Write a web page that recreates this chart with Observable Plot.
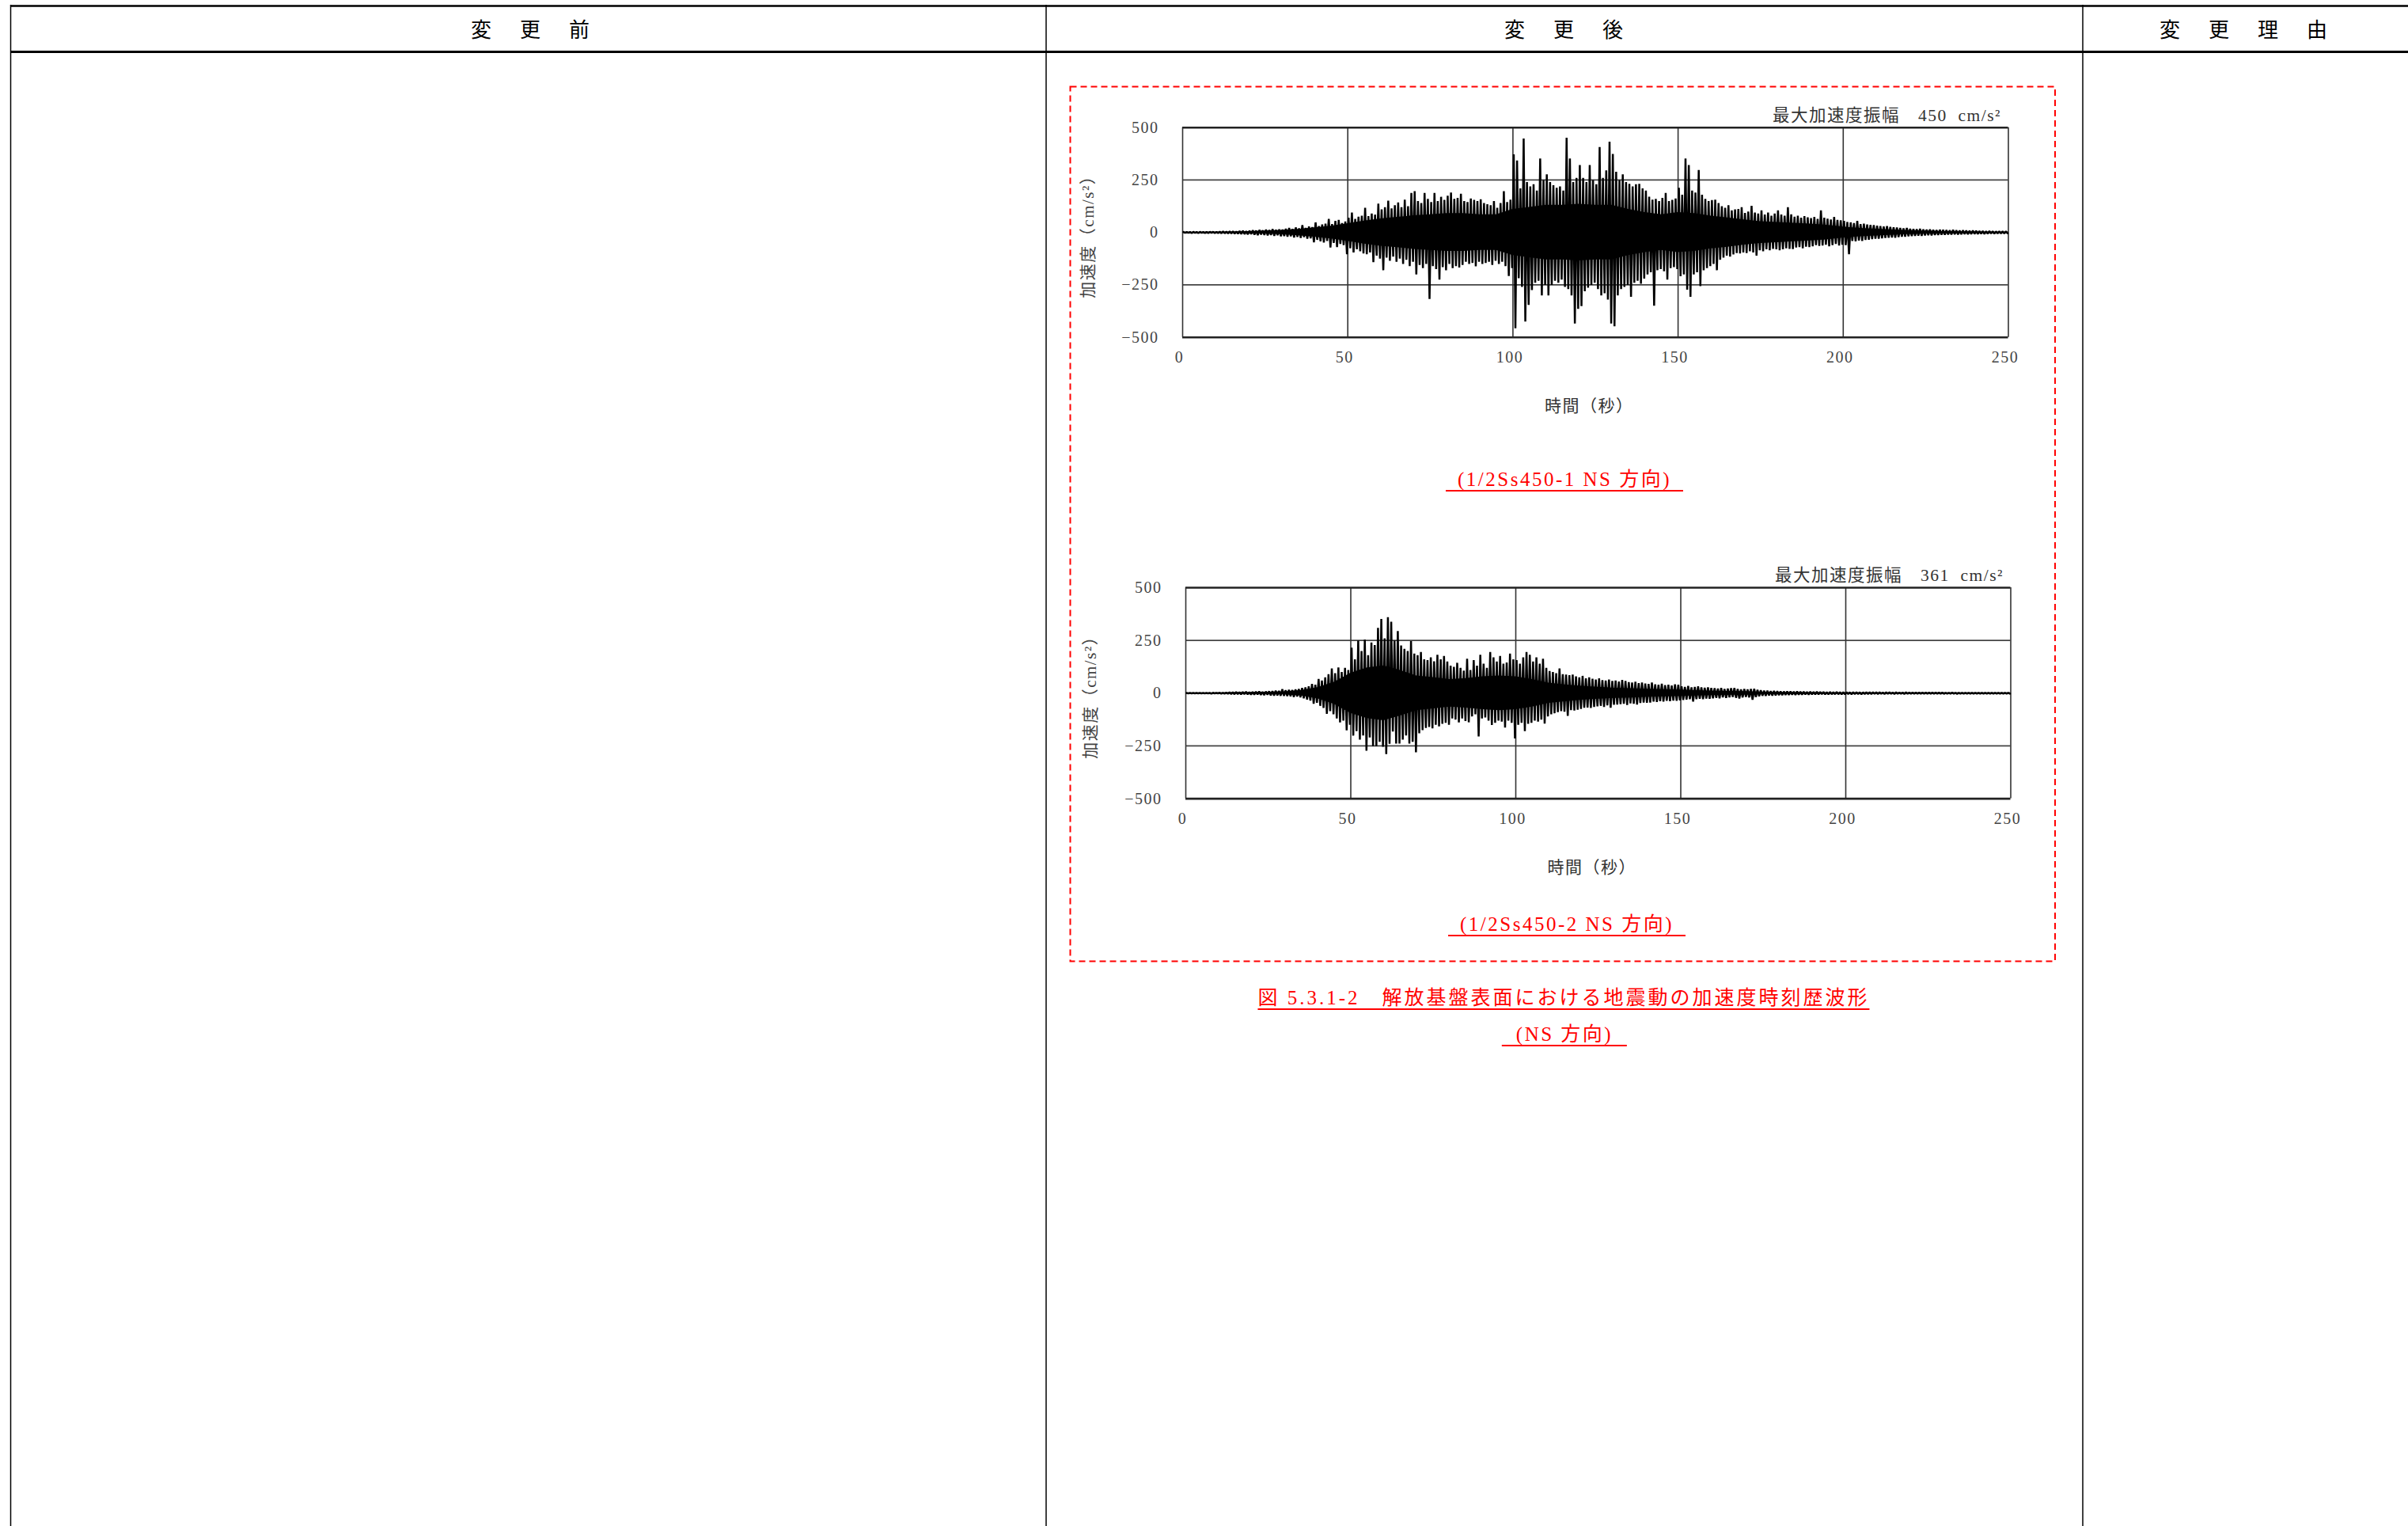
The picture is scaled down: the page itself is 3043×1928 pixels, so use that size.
<!DOCTYPE html>
<html><head><meta charset="utf-8">
<script src="https://cdn.jsdelivr.net/npm/d3@7"></script>
<script src="https://cdn.jsdelivr.net/npm/@observablehq/plot@0.6"></script>
<style>
html,body{margin:0;padding:0;background:#fff;}
body{position:relative;width:3043px;height:1928px;overflow:hidden;font-family:"Liberation Serif","Noto Sans CJK JP",serif;}
.abs{position:absolute;}
.hdr{position:absolute;top:20px;height:32px;line-height:32px;font-size:26px;letter-spacing:5px;padding-left:5px;color:#000;transform:translateX(-50%);white-space:nowrap;font-family:"Noto Sans CJK JP",sans-serif;}
.cap{position:absolute;transform:translateX(-50%);white-space:nowrap;color:#f00;font-size:25px;line-height:26px;letter-spacing:2.5px;border-bottom:2px solid #f00;}
</style></head><body>
<svg width="3043" height="1928" style="position:absolute;left:0;top:0">
<line x1="13" y1="7.5" x2="3043" y2="7.5" stroke="#000" stroke-width="2.5"/>
<line x1="13" y1="65.5" x2="3043" y2="65.5" stroke="#000" stroke-width="3"/>
<line x1="13.5" y1="6" x2="13.5" y2="1928" stroke="#000" stroke-width="1.5"/>
<line x1="1322" y1="6" x2="1322" y2="1928" stroke="#000" stroke-width="1.5"/>
<line x1="2632" y1="6" x2="2632" y2="1928" stroke="#000" stroke-width="1.5"/>
<rect x="1352.5" y="109.5" width="1244.5" height="1105" fill="none" stroke="#f00" stroke-width="2" stroke-dasharray="8 5"/>
</svg>
<div class="hdr" style="left:670px">変　更　前</div>
<div class="hdr" style="left:1976px">変　更　後</div>
<div class="hdr" style="left:2835px">変　更　理　由</div>
<div id="c1" class="abs" style="left:1360px;top:110px"></div>
<div id="c2" class="abs" style="left:1360px;top:690px"></div>
<div class="cap" id="cap1" style="left:1977px;top:593px;padding:0 15px"></div>
<div class="cap" id="cap2" style="left:1980px;top:1155px;padding:0 15px"></div>
<div class="cap" id="fig1" style="left:1976px;top:1248px;letter-spacing:3px"></div>
<div class="cap" id="fig2" style="left:1977px;top:1294px;padding:0 18px"></div>
<script>
const xTicks = [0, 50, 100, 150, 200, 250];
const yTicks = [-500, -250, 0, 250, 500];
const yLabel = "加速度（cm/s²）";
const xLabel = "時間（秒）";
const peak1 = "最大加速度振幅　450\u00a0\u00a0cm/s²";
const peak2 = "最大加速度振幅　361\u00a0\u00a0cm/s²";
const caption1 = "(1/2Ss450-1 NS 方向)";
const caption2 = "(1/2Ss450-2 NS 方向)";
const figTitle1 = "図 5.3.1-2　解放基盤表面における地震動の加速度時刻歴波形";
const figTitle2 = "(NS 方向)";

// 1/2Ss450-1 NS: per-second positive / negative peak acceleration (cm/s²), t = 0..249 s
const ns1Hi = [
 2,2,2,3,2,3,2,3,3,3, 3,4,5,4,5,6,5,7,8,6, 8,10,9,12,10,14,12,16,13,15, 14,18,22,17,24,20,35,22,28,26,
 48,30,38,42,65,40,55,60,45,52, 70,95,65,75,80,118,78,90,85,137, 110,120,152,115,130,143,120,156,125,188,
 197,150,140,188,160,145,188,150,170,155, 175,190,160,165,185,150,145,162,155,150, 158,140,135,130,150,118,140,197,145,156,
 372,343,210,448,240,220,230,200,353,250, 277,240,225,213,220,200,452,353,240,260, 321,260,240,321,250,230,407,260,296,433,
 374,289,250,277,240,232,220,230,232,210, 200,170,156,160,150,165,188,150,155,162, 213,180,353,321,200,190,298,180,160,150,
 154,156,140,125,118,130,105,110,112,120, 93,100,127,95,90,105,85,95,80,90, 105,85,80,120,86,75,80,70,78,72,
 68,74,65,105,70,66,62,74,60,58, 55,50,48,45,55,40,42,38,36,35, 32,30,28,30,26,25,24,22,20,22,
 18,17,16,18,15,14,15,13,12,13, 12,11,10,12,10,9,10,9,8,9, 8,7,7,6,7,6,5,6,5,5];
const ns1Lo = [
 -2,-2,-3,-2,-3,-2,-3,-3,-2,-3, -3,-4,-4,-5,-5,-6,-6,-7,-8,-9, -8,-11,-13,-10,-12,-14,-12,-16,-13,-18, -17,-20,-18,-24,-21,-26,-22,-30,-28,-47,
 -35,-42,-48,-40,-72,-50,-70,-55,-60,-104, -75,-95,-80,-90,-100,-104,-95,-142,-110,-125, -180,-120,-135,-115,-140,-125,-150,-130,-160,-140,
 -200,-155,-170,-150,-317,-160,-175,-225,-165,-180, -150,-170,-160,-167,-155,-140,-150,-145,-161,-140, -150,-145,-140,-155,-135,-150,-140,-160,-208,-170,
 -457,-218,-260,-425,-345,-275,-240,-230,-300,-250, -300,-250,-230,-240,-225,-260,-270,-300,-434,-364, -351,-280,-263,-250,-240,-270,-300,-290,-320,-434,
 -447,-300,-270,-260,-250,-307,-240,-230,-244,-220, -200,-190,-349,-180,-175,-185,-225,-170,-165,-175, -209,-200,-273,-307,-200,-190,-256,-180,-170,-160,
 -150,-180,-130,-120,-110,-115,-105,-98,-100,-95, -98,-90,-95,-110,-85,-90,-80,-85,-78,-80, -85,-80,-75,-78,-79,-72,-70,-75,-68,-70,
 -66,-60,-64,-62,-58,-66,-60,-55,-62,-58, -60,-104,-40,-42,-38,-40,-36,-35,-32,-30, -30,-28,-26,-25,-24,-25,-22,-20,-20,-18,
 -17,-16,-15,-16,-14,-13,-14,-12,-12,-11, -11,-10,-10,-9,-10,-9,-8,-9,-8,-7, -7,-6,-7,-6,-5,-6,-5,-5,-5,-4];
// half-width of the solid black band, every 5 s (t = 0..250)
const coreSeconds = [0,5,10,15,20,25,30,35,40,45,50,55,60,65,70,75,80,85,90,95,100,105,110,115,120,125,130,135,140,145,150,155,160,165,170,175,180,185,190,195,200,205,210,215,220,225,230,235,240,245,250];
const ns1Core = [1,1,2,3,5,7,10,15,22,30,42,55,65,72,80,85,90,90,85,85,110,120,130,130,135,130,130,110,95,85,95,90,78,70,60,52,48,44,40,35,26,20,16,12,9,7,5,4,3,2,2];

// 1/2Ss450-2 NS
const ns2Hi = [
 1,1,1,1,1,1,1,1,2,1, 2,2,3,4,5,6,5,6,7,5, 6,7,8,6,8,9,10,12,11,19, 14,16,15,18,20,25,28,32,44,40,
 67,60,75,90,117,95,122,100,120,110, 216,160,250,200,254,180,240,228,310,352, 260,360,339,250,295,226,210,200,247,188,
 180,195,160,157,170,151,182,160,176,150, 130,125,144,120,107,163,110,157,130,182, 140,120,195,170,150,176,140,145,188,160,
 157,140,170,195,182,150,170,140,163,120, 105,100,95,117,90,88,85,88,80,75, 82,70,75,68,65,70,62,60,65,58,
 60,55,63,58,52,50,54,48,50,46, 44,50,42,40,45,38,40,36,42,40, 32,30,34,28,30,32,28,26,28,25,
 24,22,25,20,22,24,25,20,18,20, 18,20,21,16,14,12,12,10,11,10, 9,8,9,8,7,8,7,7,6,7,
 6,7,6,6,5,6,5,6,5,5, 5,4,5,4,4,4,5,4,4,4, 4,3,4,4,3,4,3,3,4,3,
 3,3,3,3,3,3,3,3,3,3, 2,2,3,2,2,2,2,2,2,2, 2,2,2,2,2,2,2,2,2,2];
const ns2Lo = [
 -1,-1,-1,-1,-1,-1,-1,-2,-1,-1, -2,-2,-3,-4,-5,-4,-6,-5,-6,-7, -7,-6,-8,-9,-7,-10,-11,-10,-12,-13, -14,-15,-18,-16,-20,-24,-30,-35,-50,-45,
 -60,-70,-98,-85,-100,-120,-138,-130,-176,-150, -201,-180,-220,-200,-273,-210,-251,-251,-230,-254, -289,-240,-182,-239,-239,-220,-200,-239,-230,-280,
 -190,-175,-165,-160,-167,-150,-157,-145,-140,-150, -120,-125,-138,-120,-132,-138,-110,-100,-205,-120, -115,-130,-151,-140,-130,-135,-163,-130,-140,-214,
 -150,-140,-180,-145,-140,-130,-135,-125,-144,-110, -100,-95,-90,-85,-88,-107,-80,-82,-78,-75, -69,-68,-70,-65,-62,-60,-65,-58,-69,-55,
 -54,-52,-50,-56,-48,-50,-54,-46,-44,-45, -44,-40,-42,-38,-40,-36,-38,-35,-36,-34, -32,-30,-28,-40,-28,-26,-28,-25,-26,-24,
 -22,-24,-20,-22,-20,-18,-22,-25,-20,-18, -20,-31,-18,-15,-12,-12,-10,-11,-10,-9, -9,-8,-8,-7,-8,-7,-7,-6,-7,-6,
 -6,-6,-5,-6,-6,-5,-5,-5,-6,-5, -4,-5,-4,-4,-5,-4,-4,-4,-3,-4, -3,-4,-3,-3,-4,-3,-3,-4,-3,-3,
 -3,-3,-3,-3,-3,-3,-3,-3,-3,-3, -2,-2,-2,-3,-2,-2,-2,-2,-2,-2, -2,-2,-2,-2,-2,-2,-2,-2,-2,-2];
const ns2Core = [1,1,2,3,4,5,7,13,26,52,95,120,130,108,82,74,65,70,78,82,78,65,48,40,33,28,24,22,19,17,15,12,10,9,8,5,4,3,3,2,2,2,2,2,2,2,2,2,2,2,2];

const font = "'Liberation Serif','Noto Sans CJK JP',serif";

function wave(hi, lo) {
  const out = [];
  hi.forEach((h, i) => { out.push({t: i + 0.25, a: h}); out.push({t: i + 0.75, a: lo[i]}); });
  return out;
}
function band(core) {
  return coreSeconds.map((t, i) => ({t, c: core[i]}));
}

function chart(hi, lo, core, peak, m) {
  return Plot.plot({
    width: 1200, height: 430,
    marginLeft: m.l, marginRight: m.r, marginTop: m.t, marginBottom: m.b,
    style: {fontFamily: font, fontSize: "20px", color: "#444", background: "transparent", letterSpacing: "1.5px", overflow: "visible"},
    x: {domain: [0, 250]},
    y: {domain: [-500, 500]},
    marks: [
      Plot.ruleY(yTicks.filter(v => Math.abs(v) < 500), {stroke: "#444", strokeWidth: 1.8}),
      Plot.ruleX(xTicks, {stroke: "#333", strokeWidth: 1.6}),
      Plot.areaY(band(core), {x: "t", y1: d => -d.c, y2: d => d.c, fill: "#000"}),
      Plot.line(wave(hi, lo), {x: "t", y: "a", stroke: "#000", strokeWidth: 2.5, strokeLinejoin: "miter", strokeMiterlimit: 1}),
      Plot.ruleY([-500, 500], {stroke: "#222", strokeWidth: 2.6}),
      Plot.axisX({ticks: xTicks, tickSize: 0, tickPadding: 18, dx: -4, label: null}),
      Plot.axisY({ticks: yTicks, tickSize: 0, tickPadding: 30, label: null}),
      Plot.text([yLabel], {text: d => d, frameAnchor: "left", textAnchor: "middle", rotate: -90, dx: -m.yl, fontSize: 21, fill: "#444"}),
      Plot.text([xLabel], {text: d => d, frameAnchor: "bottom", lineAnchor: "middle", dy: 87, dx: -8, fontSize: 21, fill: "#333"}),
      Plot.text([peak], {text: d => d, frameAnchor: "top-right", textAnchor: "end", lineAnchor: "middle", dx: -9, dy: -15, fontSize: 21.5, fill: "#333"})
    ]
  });
}

document.getElementById("c1").appendChild(chart(ns1Hi, ns1Lo, ns1Core, peak1, {l: 134, r: 22.5, t: 50.7, b: 114.3, yl: 119}));
document.getElementById("c2").appendChild(chart(ns2Hi, ns2Lo, ns2Core, peak2, {l: 138, r: 19.5, t: 52, b: 111.4, yl: 120}));
document.getElementById("cap1").textContent = caption1;
document.getElementById("cap2").textContent = caption2;
document.getElementById("fig1").textContent = figTitle1;
document.getElementById("fig2").textContent = figTitle2;
</script>
</body></html>
